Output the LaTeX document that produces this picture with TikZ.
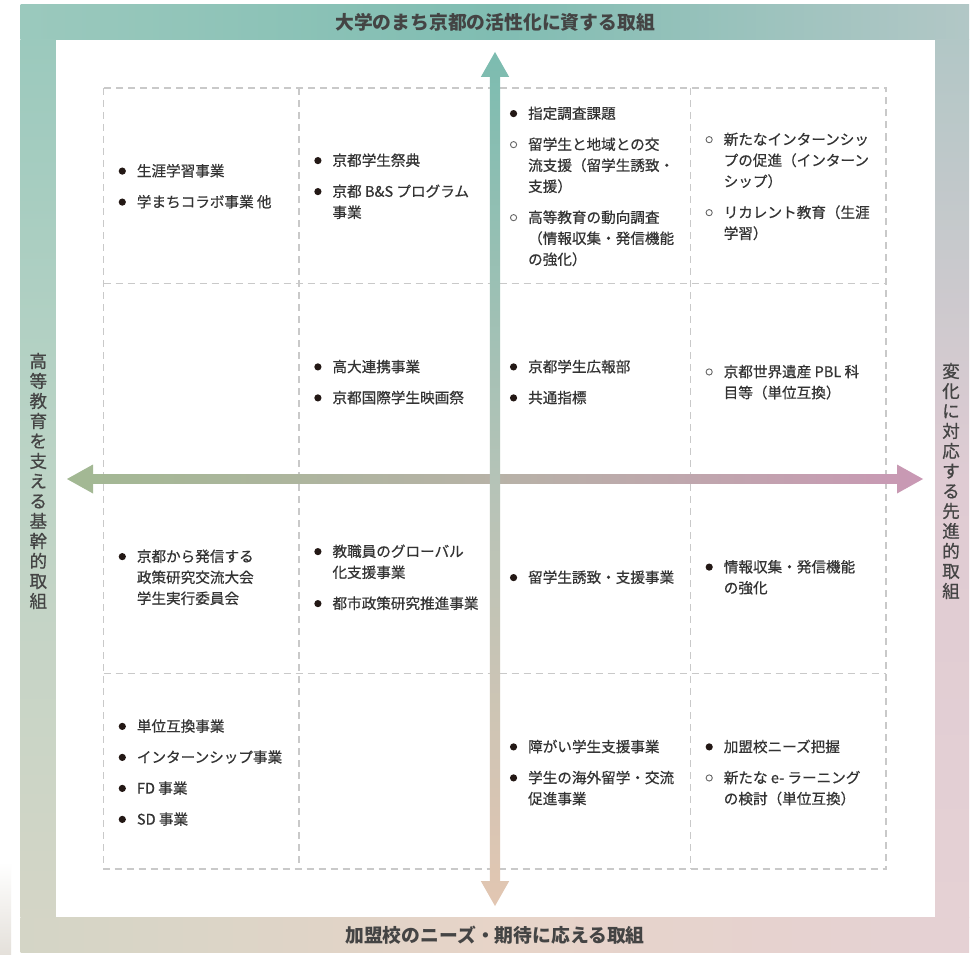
\documentclass[tikz,border=0pt]{standalone}
\usepackage{fontspec}
\setmainfont{Noto Sans CJK JP}
\newfontfamily\cellfont[FakeBold=0.55]{Noto Sans CJK JP}
\newfontfamily\labfont[FakeBold=0.7]{Noto Sans CJK JP}
\definecolor{txt}{HTML}{333333}
\definecolor{ttlc}{HTML}{444444}
\definecolor{bulc}{HTML}{231815}
\definecolor{bulo}{HTML}{666666}
\definecolor{gridc}{HTML}{C9C9C9}
\definecolor{fTL}{HTML}{9BC9BD}
\definecolor{fTM}{HTML}{80BDB2}
\definecolor{fTR}{HTML}{B2C7C6}
\definecolor{fLM}{HTML}{BDD4C6}
\definecolor{fRM}{HTML}{DFCBD3}
\definecolor{fBL}{HTML}{D4D5C6}
\definecolor{fBM}{HTML}{E7D4C8}
\definecolor{fBR}{HTML}{E5D1D4}
\definecolor{edgec}{HTML}{E4E0DA}
\definecolor{vT}{HTML}{7CBCB0}
\definecolor{vM}{HTML}{B5C3B7}
\definecolor{vB}{HTML}{E2C6B2}
\definecolor{hL}{HTML}{A2B893}
\definecolor{hM}{HTML}{B7B2A7}
\definecolor{hR}{HTML}{C998B4}
\newcommand{\dotb}{\raisebox{1.6pt}{\tikz\fill[bulc] (0,0) circle (3.6pt);}}
\newcommand{\dotw}{\raisebox{1.6pt}{\tikz\draw[bulo, line width=0.9pt] (0,0) circle (3.1pt);}}
\newcommand{\lst}[1]{\begin{tabular}{@{}c@{\hspace{11pt}}l@{}}#1\end{tabular}}
\tikzset{
  cell/.style={anchor=west, inner sep=0pt, text=txt, font=\cellfont\fontsize{14.6}{21}\selectfont},
  ttl/.style={inner sep=0pt, text=ttlc, font=\bfseries\fontsize{18.8}{22}\selectfont},
  vlab/.style={inner sep=0pt, text=ttlc, align=center, font=\labfont\fontsize{17.5}{20}\selectfont},
  gridline/.style={draw=gridc, line width=1.4pt, dash pattern=on 7pt off 5pt}
}
\begin{document}
\begin{tikzpicture}[x=1pt,y=-1pt]
\useasboundingbox (0,0) rectangle (980,955);
\fill[white] (0,0) rectangle (980,955);
% page edge
\shade[top color=white, bottom color=edgec] (0,862) rectangle (11,955);
% frame
\shade[left color=fTL, right color=fTR, middle color=fTM] (20.7,4.7) rectangle (969,39.8);
\shade[left color=fBL, right color=fBR, middle color=fBM] (20.7,917.2) rectangle (969,952.3);
\shade[top color=fTL, bottom color=fBL, middle color=fLM] (20.7,39.3) rectangle (55.7,917.7);
\shade[top color=fTR, bottom color=fBR, middle color=fRM] (935.3,39.3) rectangle (969,917.7);
% grid
\draw[gridline] (103.5,88) rectangle (886,869);
\foreach \x in {299.1,494.75,690.4} \draw[gridline] (\x,88) -- (\x,869);
\foreach \y in {283.25,478.5,673.75} \draw[gridline] (103.5,\y) -- (886,\y);
% arrows
\shade[left color=hL, right color=hR, middle color=hM]
  (67,479) -- (93,464.5) -- (93,474.2) -- (897,474.2) -- (897,464.5) -- (923,479)
  -- (897,493.5) -- (897,483.8) -- (93,483.8) -- (93,493.5) -- cycle;
\shade[top color=vT, bottom color=vB, middle color=vM]
  (495,52) -- (509.2,77) -- (500.2,77) -- (500.2,881) -- (509.2,881) -- (495,906)
  -- (480.8,881) -- (489.8,881) -- (489.8,77) -- (480.8,77) -- cycle;
% titles
\node[ttl] (ttop) at (495,22) {大学のまち京都の活性化に資する取組};
\node[ttl] (tbot) at (495,935) {加盟校のニーズ・期待に応える取組};
\node[vlab] (tleft) at (38.3,481) {高\\等\\教\\育\\を\\支\\え\\る\\基\\幹\\的\\取\\組};
\node[vlab] (tright) at (951,481) {変\\化\\に\\対\\応\\す\\る\\先\\進\\的\\取\\組};
% cells
\node[cell] (c11) at (118.5,187.6) {\lst{\dotb & 生涯学習事業\\[10pt] \dotb & 学まちコラボ事業 他}};
\node[cell] (c12) at (314.1,187.6) {\lst{\dotb & 京都学生祭典\\[10pt] \dotb & 京都 B\&S プログラム\\ & 事業}};
\node[cell] (c13) at (509.75,187.6) {\lst{\dotb & 指定調査課題\\[10pt] \dotw & 留学生と地域との交\\ & 流支援（留学生誘致・\\ & 支援）\\[10pt] \dotw & 高等教育の動向調査\\ & （情報収集・発信機能\\ & の強化）}};
\node[cell] (c14) at (705.4,187.6) {\lst{\dotw & 新たなインターンシッ\\ & プの促進（インターン\\ & シップ）\\[10pt] \dotw & リカレント教育（生涯\\ & 学習）}};
\node[cell] (c22) at (314.1,383.4) {\lst{\dotb & 高大連携事業\\[10pt] \dotb & 京都国際学生映画祭}};
\node[cell] (c23) at (509.75,383.4) {\lst{\dotb & 京都学生広報部\\[10pt] \dotb & 共通指標}};
\node[cell] (c24) at (705.4,383.4) {\lst{\dotw & 京都世界遺産 PBL 科\\ & 目等（単位互換）}};
\node[cell] (c31) at (118.5,578.6) {\lst{\dotb & 京都から発信する\\ & 政策研究交流大会\\ & 学生実行委員会}};
\node[cell] (c32) at (314.1,578.6) {\lst{\dotb & 教職員のグローバル\\ & 化支援事業\\[10pt] \dotb & 都市政策研究推進事業}};
\node[cell] (c33) at (509.75,578.6) {\lst{\dotb & 留学生誘致・支援事業}};
\node[cell] (c34) at (705.4,578.6) {\lst{\dotb & 情報収集・発信機能\\ & の強化}};
\node[cell] (c41) at (118.5,773.9) {\lst{\dotb & 単位互換事業\\[10pt] \dotb & インターンシップ事業\\[10pt] \dotb & FD 事業\\[10pt] \dotb & SD 事業}};
\node[cell] (c43) at (509.75,773.9) {\lst{\dotb & 障がい学生支援事業\\[10pt] \dotb & 学生の海外留学・交流\\ & 促進事業}};
\node[cell] (c44) at (705.4,773.9) {\lst{\dotb & 加盟校ニーズ把握\\[10pt] \dotw & 新たな e- ラーニング\\ & の検討（単位互換）}};
\end{tikzpicture}
\end{document}
